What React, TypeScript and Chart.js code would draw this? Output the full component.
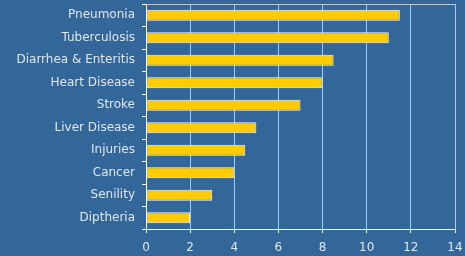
import React, { useEffect, useRef } from "react";
import { Chart, registerables } from "chart.js";

Chart.register(...registerables);

const categories = [
  "Pneumonia",
  "Tuberculosis",
  "Diarrhea & Enteritis",
  "Heart Disease",
  "Stroke",
  "Liver Disease",
  "Injuries",
  "Cancer",
  "Senility",
  "Diptheria",
];
const values = [11.5, 11, 8.5, 8, 7, 5, 4.5, 4, 3, 2];
const xTicks = [0, 2, 4, 6, 8, 10, 12, 14];

const BG = "#336699";

const bgPlugin = {
  id: "bgFrame",
  beforeDraw(chart: any) {
    const { ctx, width, height } = chart;
    ctx.save();
    ctx.fillStyle = BG;
    ctx.fillRect(0, 0, width, height);
    ctx.restore();
  },
  afterDatasetsDraw(chart: any) {
    const { ctx, chartArea } = chart;
    ctx.save();
    ctx.strokeStyle = "#b4c8dc";
    ctx.lineWidth = 1;
    ctx.beginPath();
    ctx.moveTo(chartArea.left, chartArea.top + 0.5);
    ctx.lineTo(chartArea.right + 0.5, chartArea.top + 0.5);
    ctx.lineTo(chartArea.right + 0.5, chartArea.bottom);
    ctx.stroke();
    ctx.restore();
  },
};

export default function App() {
  const ref = useRef<HTMLCanvasElement | null>(null);
  useEffect(() => {
    document.body.style.margin = "0";
    document.body.style.background = BG;
    const chart = new Chart(ref.current as HTMLCanvasElement, {
      type: "bar",
      data: {
        labels: categories,
        datasets: [
          {
            data: values,
            backgroundColor: "#ffcc00",
            borderColor: "#f8f8f8",
            borderWidth: 1,
            borderSkipped: false,
            barPercentage: 0.48,
            categoryPercentage: 1,
          },
        ],
      },
      options: {
        indexAxis: "y",
        responsive: false,
        animation: false,
        layout: { padding: { top: 4, right: 10, left: 0, bottom: 0 } },
        plugins: { legend: { display: false }, tooltip: { enabled: false } },
        scales: {
          x: {
            min: 0,
            max: 14,
            afterBuildTicks: (scale: any) => {
              scale.ticks = xTicks.map((v) => ({ value: v }));
            },
            afterFit: (scale: any) => {
              scale.height = 27;
              scale.paddingLeft = 0;
              scale.paddingRight = 0;
            },
            grid: {
              color: "#99ccff",
              tickColor: "#ffffff",
              tickLength: 4,
              lineWidth: 1,
            },
            border: { color: "#ffffff", width: 1 },
            ticks: {
              color: "#dfe7ef",
              font: { family: "DejaVu Sans", size: 12 },
              padding: 8,
            },
          },
          y: {
            afterFit: (scale: any) => {
              scale.width = 146;
              scale.paddingTop = 0;
              scale.paddingBottom = 0;
            },
            grid: {
              drawOnChartArea: false,
              tickColor: "#ffffff",
              tickLength: 4,
              offset: true,
            },
            border: { color: "#ffffff", width: 1 },
            ticks: {
              color: "#dfe7ef",
              font: { family: "DejaVu Sans", size: 12 },
              padding: 7,
            },
          },
        },
      },
      plugins: [bgPlugin],
    } as any);
    return () => chart.destroy();
  }, []);
  return <canvas ref={ref} width={465} height={256} style={{ display: "block" }} />;
}
